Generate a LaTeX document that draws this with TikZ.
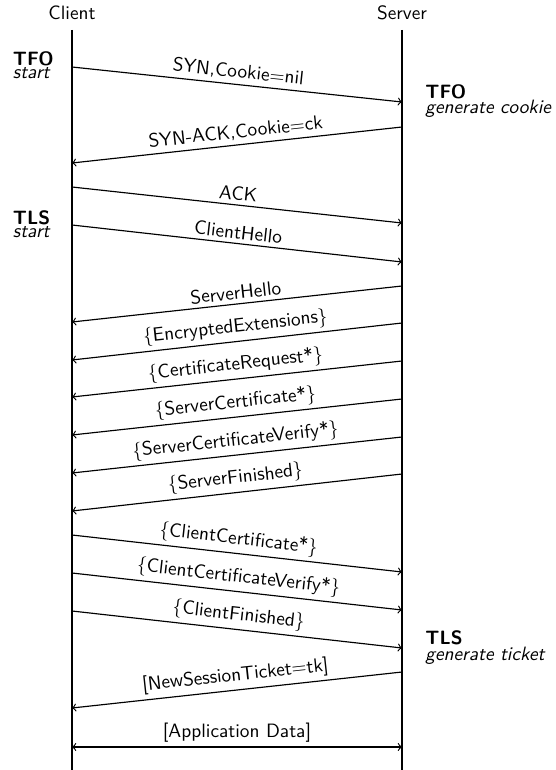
\documentclass[tikz,border=0pt]{standalone}
\usepackage{fontspec}
\begin{document}
\begin{tikzpicture}[x=0.518pt,y=-0.518pt,
  every node/.style={font=\sffamily},
  life/.style={line width=1.2pt},
  msg/.style={->,line width=0.6pt},
  lbl/.style={midway,above,sloped,inner sep=2pt},
  note/.style={anchor=base west,align=left,inner sep=0pt,
    font=\sffamily\fontsize{10}{6.8}\selectfont}]
\useasboundingbox (0,0) rectangle (555,770);
% lifelines
\node (client) at (72,13) {Client};
\node (server) at (402,13) {Server};
\coordinate (ctop) at (72,30);
\coordinate (cbot) at (72,770);
\coordinate (stop) at (402,30);
\coordinate (sbot) at (402,770);
\draw[life] (ctop) -- (cbot);
\draw[life] (stop) -- (sbot);
% side annotations
\node[note] (tfoa) at (12.5,79) {\textbf{TFO}\\\textit{start}};
\node[note] (tfob) at (425,114) {\textbf{TFO}\\\textit{generate cookie}};
\node[note] (tlsa) at (12.5,238) {\textbf{TLS}\\\textit{start}};
\node[note] (tlsb) at (425,660) {\textbf{TLS}\\\textit{generate ticket}};
% message endpoints
\coordinate (c1) at (72,67);   \coordinate (s1) at (402,102);
\coordinate (s2) at (402,127); \coordinate (c2) at (72,163);
\coordinate (c3) at (72,187);  \coordinate (s3) at (402,223);
\coordinate (c4) at (72,225);  \coordinate (s4) at (402,262);
\coordinate (s5) at (402,286); \coordinate (c5) at (72,322);
\coordinate (s6) at (402,323); \coordinate (c6) at (72,360);
\coordinate (s7) at (402,361); \coordinate (c7) at (72,397);
\coordinate (s8) at (402,399); \coordinate (c8) at (72,435);
\coordinate (s9) at (402,437); \coordinate (c9) at (72,473);
\coordinate (s10) at (402,474); \coordinate (c10) at (72,511);
\coordinate (c11) at (72,535); \coordinate (s11) at (402,572);
\coordinate (c12) at (72,573); \coordinate (s12) at (402,610);
\coordinate (c13) at (72,611); \coordinate (s13) at (402,648);
\coordinate (s14) at (402,672); \coordinate (c14) at (72,708);
\coordinate (c15) at (72,747); \coordinate (s15) at (402,747);
% messages
\draw[msg] (c1) -- node[lbl] {SYN,Cookie=nil} (s1);
\draw[msg] (s2) -- node[lbl] {SYN-ACK,Cookie=ck} (c2);
\draw[msg] (c3) -- node[lbl] {ACK} (s3);
\draw[msg] (c4) -- node[lbl] {ClientHello} (s4);
\draw[msg] (s5) -- node[lbl] {ServerHello} (c5);
\draw[msg] (s6) -- node[lbl] {$\{$EncryptedExtensions$\}$} (c6);
\draw[msg] (s7) -- node[lbl] {$\{$CertificateRequest*$\}$} (c7);
\draw[msg] (s8) -- node[lbl] {$\{$ServerCertificate*$\}$} (c8);
\draw[msg] (s9) -- node[lbl] {$\{$ServerCertificateVerify*$\}$} (c9);
\draw[msg] (s10) -- node[lbl] {$\{$ServerFinished$\}$} (c10);
\draw[msg] (c11) -- node[lbl] {$\{$ClientCertificate*$\}$} (s11);
\draw[msg] (c12) -- node[lbl] {$\{$ClientCertificateVerify*$\}$} (s12);
\draw[msg] (c13) -- node[lbl] {$\{$ClientFinished$\}$} (s13);
\draw[msg] (s14) -- node[lbl] {[NewSessionTicket=tk]} (c14);
\draw[msg,<->] (c15) -- node[lbl] {[Application Data]} (s15);
\end{tikzpicture}
\end{document}
